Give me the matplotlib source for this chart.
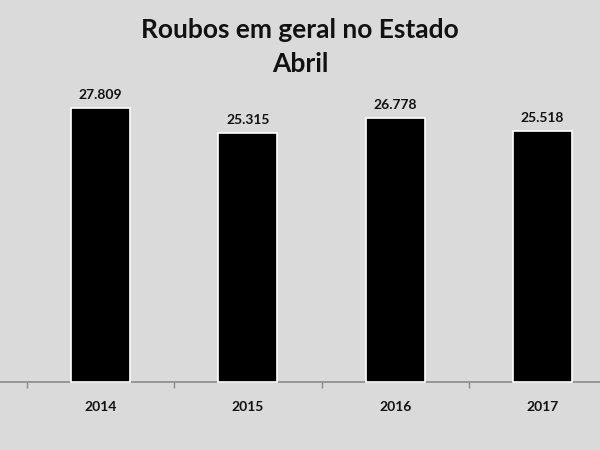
import matplotlib
matplotlib.use("Agg")
import matplotlib.pyplot as plt

BG = "#dadada"

years = ["2014", "2015", "2016", "2017"]
values = [27809, 25315, 26778, 25518]
value_labels = ["27.809", "25.315", "26.778", "25.518"]

fig = plt.figure(figsize=(6, 4.5), dpi=100, facecolor=BG)
ax = fig.add_axes([0, 0, 1, 1], facecolor=BG)

x = list(range(len(years)))
ax.bar(x, values, width=0.4, color="black", edgecolor="white", linewidth=1.2, zorder=3)

for xi, v, lab in zip(x, values, value_labels):
    ax.annotate(lab, (xi, v), xytext=(0, 5), textcoords="offset points",
                ha="center", va="bottom", fontsize=10, fontweight="bold",
                family="Lato", color="#111111")

ax.set_xlim(-0.683, 3.39)
ax.set_ylim(-6900, 38770)

for s in ["top", "left", "right"]:
    ax.spines[s].set_visible(False)
ax.spines["bottom"].set_position(("data", 0))
ax.spines["bottom"].set_color("#8a8a8a")
ax.spines["bottom"].set_linewidth(1.2)
ax.set_yticks([])

ax.set_xticks(x)
ax.set_xticklabels(years, fontsize=10, fontweight="bold", family="Lato", color="#111111")
ax.tick_params(axis="x", which="major", length=0, pad=14)
ax.set_xticks([-0.5, 0.5, 1.5, 2.5], minor=True)
ax.tick_params(axis="x", which="minor", length=4, color="#8a8a8a", width=1, direction="out")

fig.text(0.5, 0.933, "Roubos em geral no Estado", ha="center", va="center",
         fontsize=19, fontweight="bold", family="Lato", color="#111111")
fig.text(0.5, 0.858, "Abril", ha="center", va="center",
         fontsize=19, fontweight="bold", family="Lato", color="#111111")

fig.savefig("out.png", dpi=100, facecolor=BG)
